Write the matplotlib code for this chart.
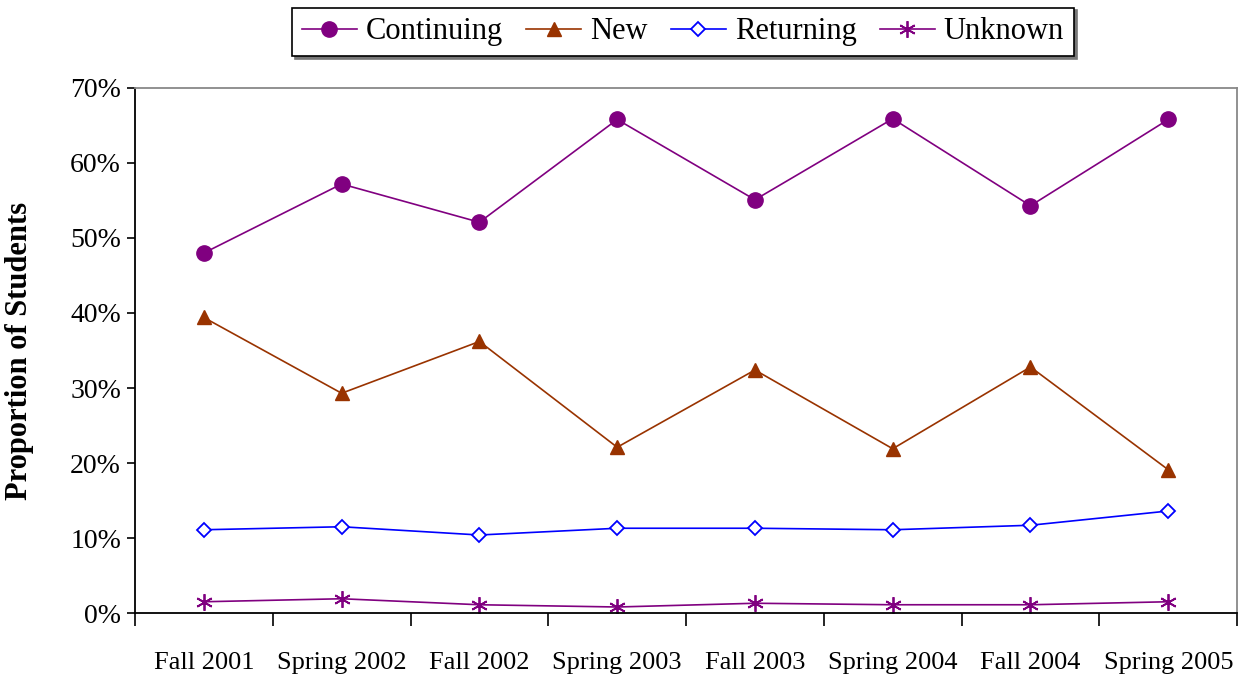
import matplotlib
matplotlib.use("Agg")
import matplotlib.pyplot as plt
from matplotlib.ticker import PercentFormatter, FixedLocator
import numpy as np

plt.rcParams['font.family'] = ['Liberation Serif', 'DejaVu Serif']

categories = ["Fall 2001", "Spring 2002", "Fall 2002", "Spring 2003",
              "Fall 2003", "Spring 2004", "Fall 2004", "Spring 2005"]
continuing = [48.0, 57.2, 52.1, 65.8, 55.1, 65.9, 54.3, 65.8]
new = [39.4, 29.3, 36.2, 22.1, 32.4, 21.9, 32.8, 19.1]
returning = [11.1, 11.5, 10.4, 11.3, 11.3, 11.1, 11.7, 13.6]
unknown = [1.5, 1.9, 1.1, 0.8, 1.3, 1.1, 1.1, 1.5]
yticks = [0, 10, 20, 30, 40, 50, 60, 70]

fig = plt.figure(figsize=(12.44, 6.79), dpi=100)
ax = fig.add_axes([0.1085, 0.0972, 0.886, 0.7732])
x = np.arange(len(categories))

ax.plot(x, continuing, color='#800080', lw=1.2, marker='o', ms=11,
        mfc='#800080', mec='#800080', label='Continuing')
ax.plot(x, new, color='#993300', lw=1.2, marker='^', ms=10,
        mfc='#993300', mec='#993300', label='New')
ax.plot(x, returning, color='#0000FF', lw=1.2, marker='D', ms=7,
        mfc='white', mec='#0000FF', mew=1.3, label='Returning')
ax.plot(x, unknown, color='#800080', lw=1.2, marker=(6, 2, 0), ms=12,
        mec='#800080', mew=1.3, label='Unknown')

ax.set_xlim(-0.5, len(categories) - 0.5)
ax.set_ylim(0, 70)
ax.set_yticks(yticks)
ax.yaxis.set_major_formatter(PercentFormatter(decimals=0))
ax.set_xticks(x)
ax.set_xticklabels(categories)
ax.xaxis.set_minor_locator(FixedLocator(np.arange(-0.5, len(categories), 1)))
ax.tick_params(axis='x', which='major', length=0, pad=28, labelsize=19)
ax.tick_params(axis='x', which='minor', length=9, width=1.2, color='black')
ax.tick_params(axis='y', length=6, width=1.2, labelsize=20, pad=4)

for s in ['left', 'bottom']:
    ax.spines[s].set_color('black')
    ax.spines[s].set_linewidth(1.3)
for s in ['top', 'right']:
    ax.spines[s].set_color('#888888')
    ax.spines[s].set_linewidth(1.3)

ax.set_ylabel('Proportion of Students', fontsize=22, fontweight='bold')
ax.yaxis.set_label_coords(-0.092, 0.5)

leg = fig.legend(loc='center', bbox_to_anchor=(0.549, 0.953), ncol=4,
                 fontsize=22, frameon=True, fancybox=False,
                 shadow={'color': '#777777', 'alpha': 1},
                 edgecolor='black', handlelength=1.8, columnspacing=0.75,
                 handletextpad=0.3, borderpad=0.32)
leg.get_frame().set_linewidth(1.2)

fig.savefig('out.png', dpi=100)
